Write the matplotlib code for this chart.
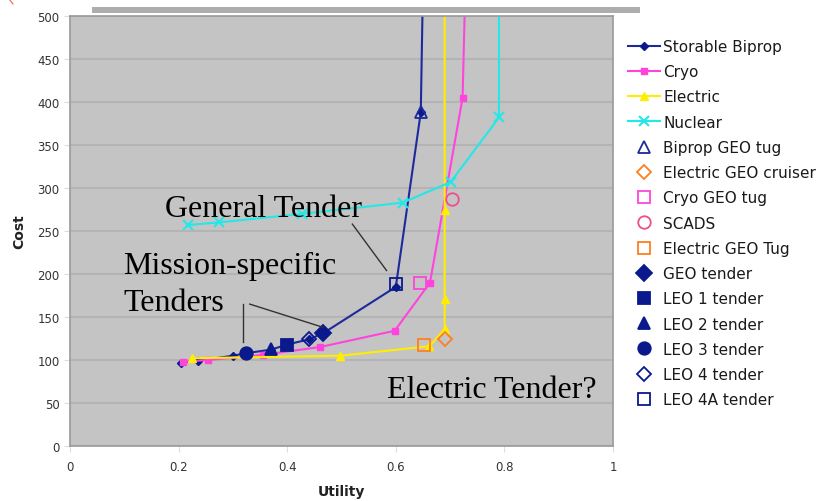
"""Cost vs utility trade space for tug / tender concepts."""

import matplotlib
matplotlib.use("Agg")
import matplotlib.pyplot as plt
from matplotlib.lines import Line2D
from matplotlib.patches import Rectangle

# propulsion family curves (utility, cost); last point of each runs off the top
biprop_u = [0.205, 0.235, 0.300, 0.325, 0.370, 0.400, 0.440, 0.466, 0.600, 0.646, 0.655]
biprop_c = [97, 99, 105, 108, 112, 118, 124, 131, 185, 388, 720]
cryo_u = [0.209, 0.255, 0.355, 0.460, 0.598, 0.663, 0.723, 0.730]
cryo_c = [98, 100, 106, 115, 134, 190, 405, 585]
elec_u = [0.224, 0.498, 0.662, 0.690, 0.690, 0.690, 0.690]
elec_c = [102, 105, 116, 136, 171, 274, 600]
nuc_u = [0.218, 0.275, 0.428, 0.613, 0.701, 0.790, 0.790]
nuc_c = [257, 260, 270, 283, 307, 382, 600]

# individual point designs
points = [
    # label, utility, cost, marker, colour, filled, size
    ("Biprop GEO tug", 0.646, 388, "^", "#1c2a9c", False, 9),
    ("Electric GEO cruiser", 0.690, 124, "D", "#ff7f1e", False, 7),
    ("Cryo GEO tug", 0.645, 189, "s", "#ff44dd", False, 9),
    ("SCADS", 0.703, 287, "o", "#ee4f8a", False, 9),
    ("Electric GEO Tug", 0.652, 117, "s", "#ff7f1e", False, 9),
    ("GEO tender", 0.466, 131, "D", "#0a1a8c", True, 8),
    ("LEO 1 tender", 0.400, 118, "s", "#0a1a8c", True, 9),
    ("LEO 2 tender", 0.370, 113, "^", "#0a1a8c", True, 9),
    ("LEO 3 tender", 0.324, 108, "o", "#0a1a8c", True, 9),
    ("LEO 4 tender", 0.440, 124, "D", "#0a1a8c", False, 7),
    ("LEO 4A tender", 0.600, 188, "s", "#0a1a8c", False, 9),
]

NAVY = "#1c2a9c"
SERIF = ["Liberation Serif", "DejaVu Serif"]


def main():
    fig = plt.figure(figsize=(8.29, 5.02), dpi=100)
    ax = fig.add_axes([70 / 829, 55 / 502, 543 / 829, 430 / 502])
    ax.set_facecolor("#c4c4c4")

    ax.plot(biprop_u, biprop_c, color=NAVY, marker="D", ms=4.5, lw=1.5,
            mfc="#0a1a8c", mec="#0a1a8c", label="Storable Biprop")
    ax.plot(cryo_u, cryo_c, color="#ff44dd", marker="s", ms=5, lw=1.5,
            label="Cryo")
    ax.plot(elec_u, elec_c, color="#ffee00", marker="^", ms=6, lw=1.5,
            label="Electric")
    ax.plot(nuc_u, nuc_c, color="#22e8e8", marker="x", ms=7, mew=1.5, lw=1.5,
            label="Nuclear")

    for label, u, c, m, col, filled, s in points:
        ax.plot([u], [c], ls="none", marker=m, ms=s, mew=1.3, mec=col,
                mfc=col if filled else "none", label=label)

    ax.set_xlim(0, 1)
    ax.set_ylim(0, 500)
    ax.set_xticks([0, 0.2, 0.4, 0.6, 0.8, 1])
    ax.set_xticklabels(["0", "0.2", "0.4", "0.6", "0.8", "1"])
    ax.set_yticks(range(0, 501, 50))
    ax.yaxis.grid(True, color="#b4b4b4", lw=1.5)
    ax.set_axisbelow(True)
    ax.tick_params(colors="#dddddd", labelcolor="#333333", labelsize=8.5, length=4)
    ax.tick_params(axis="x", pad=6)
    for sp in ax.spines.values():
        sp.set_color("#9a9a9a")
        sp.set_linewidth(1.2)

    ax.set_xlabel("Utility", fontsize=10, fontweight="bold", color="#222222", labelpad=8)
    ax.set_ylabel("Cost", fontsize=10, fontweight="bold", color="#222222", labelpad=8)

    # annotations
    ax.text(0.175, 268, "General Tender", family=SERIF, fontsize=23, va="baseline")
    ax.text(0.098, 201, "Mission-specific", family=SERIF, fontsize=23, va="baseline")
    ax.text(0.098, 158, "Tenders", family=SERIF, fontsize=23, va="baseline")
    ax.text(0.584, 57, "Electric Tender?", family=SERIF, fontsize=23, va="baseline")
    ax.plot([0.52, 0.583], [258, 204], color="#333333", lw=1)
    ax.plot([0.318, 0.318], [165, 121], color="#333333", lw=1)
    ax.plot([0.331, 0.466], [165, 138], color="#333333", lw=1)

    leg = ax.legend(loc="upper left", bbox_to_anchor=(628 / 829, 1 - 40 / 502),
                    bbox_transform=fig.transFigure, frameon=False, fontsize=11,
                    handlelength=2.1, handletextpad=0.2, labelspacing=0.67,
                    borderaxespad=0, borderpad=0, numpoints=1)
    for t in leg.get_texts():
        t.set_color("#1a1a1a")

    # shadow strip above the plot and stray arrow tip in the corner
    fig.add_artist(Rectangle((92 / 829, 1 - 14 / 502), 548 / 829, 6 / 502,
                             transform=fig.transFigure, color="#adadad", lw=0))
    fig.add_artist(Line2D([9 / 829, 13 / 829], [1, 1 - 5 / 502],
                          transform=fig.transFigure, color="#ee6644", lw=0.8))

    plt.savefig("out.png", dpi=100)
    plt.close()


if __name__ == "__main__":
    main()
